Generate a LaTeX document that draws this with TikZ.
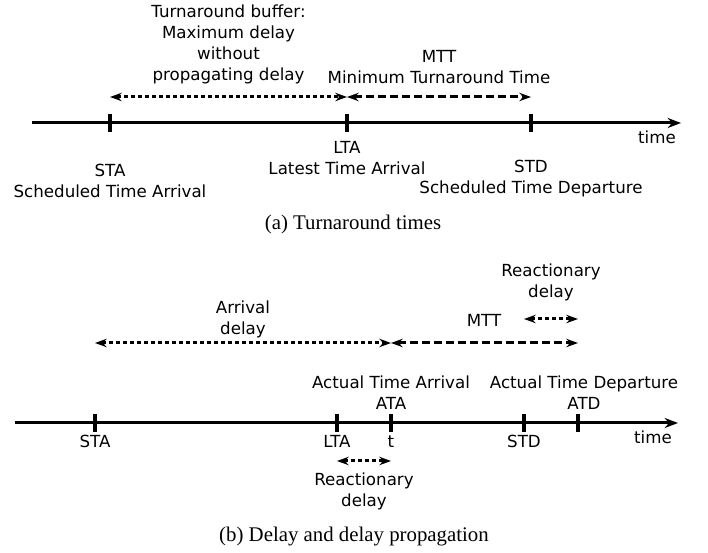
\documentclass[tikz,border=0pt]{standalone}
\usepackage{fontspec}
\setmainfont{Liberation Serif}
\newfontfamily\labelfont{DejaVu Sans}
\usetikzlibrary{arrows.meta,positioning}

\begin{document}
\begin{tikzpicture}[x=0.6pt,y=-0.6pt,
    >={Stealth[length=7pt,width=5pt]},
    axis/.style={line width=1.8pt,-{Stealth[length=8pt,width=6pt]}},
    tickmark/.style={rectangle,fill=black,inner sep=0pt,minimum width=2pt,minimum height=10.5pt},
    lbl/.style={font=\labelfont\fontsize{10}{12.6}\selectfont,align=center,inner sep=0pt},
    dotarr/.style={<->,line width=1.8pt,dash pattern=on 2.4pt off 1.8pt},
    dasharr/.style={<->,line width=1.8pt,dash pattern=on 4.8pt off 2.4pt},
    capt/.style={font=\fontsize{12.5}{15}\selectfont,inner sep=0pt}]
    \useasboundingbox (0,0) rectangle (708,553);

    % (a) turnaround times
    \coordinate (a-start) at (32,123);
    \coordinate (a-end) at (681,123);
    \draw[axis] (a-start) -- (a-end);
    \node[tickmark] (sta) at (110,123) {};
    \node[tickmark] (lta) at (347,123) {};
    \node[tickmark] (std) at (531,123) {};
    \node[lbl,anchor=base] (a-time) at (657,144) {time};
    \node[lbl] (sta-lbl) at (110,180.5) {STA\\Scheduled Time Arrival};
    \node[lbl] (lta-lbl) at (347,158.5) {LTA\\Latest Time Arrival};
    \node[lbl] (std-lbl) at (531,178.5) {STD\\Scheduled Time Departure};

    \coordinate (a-lvl) at (0,97);
    \draw[dotarr] (sta |- a-lvl) -- (lta |- a-lvl);
    \draw[dasharr] (lta |- a-lvl) -- (std |- a-lvl);
    \node[lbl] (buffer) at (228.5,44.5) {Turnaround buffer:\\Maximum delay\\without\\propagating delay};
    \node[lbl] (mtt-a) at (439,67.5) {MTT\\Minimum Turnaround Time};

    \node[capt] (cap-a) at (353,224) {(a) Turnaround times};

    % (b) delay and delay propagation
    \coordinate (b-start) at (15,423);
    \coordinate (b-end) at (678,423);
    \draw[axis] (b-start) -- (b-end);
    \node[tickmark] (sta-b) at (95,423) {};
    \node[tickmark] (lta-b) at (337,423) {};
    \node[tickmark] (t) at (391,423) {};
    \node[tickmark] (std-b) at (524,423) {};
    \node[tickmark] (atd) at (578,423) {};
    \node[lbl,anchor=base] (sta-b-lbl) at (95,448) {STA};
    \node[lbl,anchor=base] (lta-b-lbl) at (337,448) {LTA};
    \node[lbl,anchor=base] (t-lbl) at (391,448) {t};
    \node[lbl,anchor=base] (std-b-lbl) at (524,448) {STD};
    \node[lbl,anchor=base] (b-time) at (653,444) {time};
    \node[lbl] (ata-lbl) at (391,392.5) {Actual Time Arrival\\ATA};
    \node[lbl] (atd-lbl) at (584,392.5) {Actual Time Departure\\ATD};

    \coordinate (b-lvl) at (0,343);
    \draw[dotarr] (sta-b |- b-lvl) -- (t |- b-lvl);
    \draw[dasharr] (t |- b-lvl) -- (atd |- b-lvl);
    \node[lbl] (arr-delay) at (243,319) {Arrival\\delay};
    \node[lbl,anchor=base] (mtt-b) at (484,327) {MTT};

    \coordinate (rd-top) at (0,319);
    \draw[dotarr] (std-b |- rd-top) -- (atd |- rd-top);
    \node[lbl] (react-top) at (551,282.5) {Reactionary\\delay};

    \coordinate (rd-bot) at (0,461);
    \draw[dotarr] (lta-b |- rd-bot) -- (t |- rd-bot);
    \node[lbl] (react-bot) at (364,491) {Reactionary\\delay};

    \node[capt] (cap-b) at (354,537) {(b) Delay and delay propagation};
\end{tikzpicture}
\end{document}
